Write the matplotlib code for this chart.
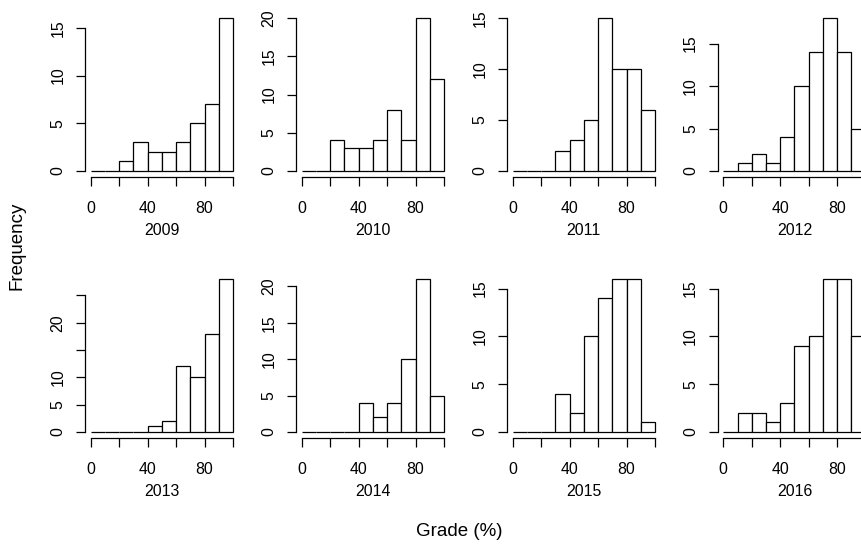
import matplotlib
matplotlib.use("Agg")
import matplotlib.pyplot as plt
from matplotlib import font_manager
import numpy as np

# pick the regular (non-narrow) Liberation Sans file explicitly
_reg = [f for f in font_manager.fontManager.ttflist
        if 'LiberationSans-Regular' in f.fname]
if _reg:
    font_manager.fontManager.addfont(_reg[0].fname)
    FAM = font_manager.FontProperties(fname=_reg[0].fname).get_name()
else:
    FAM = 'DejaVu Sans'
plt.rcParams['font.family'] = [FAM, 'DejaVu Sans']

years = ["2009", "2010", "2011", "2012", "2013", "2014", "2015", "2016"]
bin_edges = [0, 10, 20, 30, 40, 50, 60, 70, 80, 90, 100]
counts_2009 = [0, 0, 1, 3, 2, 2, 3, 5, 7, 16]
counts_2010 = [0, 0, 4, 3, 3, 4, 8, 4, 20, 12]
counts_2011 = [0, 0, 0, 2, 3, 5, 15, 10, 10, 6]
counts_2012 = [0, 1, 2, 1, 4, 10, 14, 18, 14, 5]
counts_2013 = [0, 0, 0, 0, 1, 2, 12, 10, 18, 28]
counts_2014 = [0, 0, 0, 0, 4, 2, 4, 10, 21, 5]
counts_2015 = [0, 0, 0, 4, 2, 10, 14, 16, 16, 1]
counts_2016 = [0, 2, 2, 1, 3, 9, 10, 16, 16, 10]
all_counts = [counts_2009, counts_2010, counts_2011, counts_2012,
              counts_2013, counts_2014, counts_2015, counts_2016]
x_ticks = [0, 20, 40, 60, 80, 100]
x_ticklabels = ["0", "", "40", "", "80", ""]

W, H = 861, 545
fig = plt.figure(figsize=(W / 100, H / 100), dpi=100)

lefts = [85, 296, 507, 717.6]
tops = [12.1, 273.0]
pw, ph = 153.7, 165.0
FS = 11.4

for i, (yr, cnt) in enumerate(zip(years, all_counts)):
    r, c = divmod(i, 4)
    ax = fig.add_axes([lefts[c] / W, 1 - (tops[r] + ph) / H, pw / W, ph / H])
    edges = np.array(bin_edges, dtype=float)
    ax.bar(edges[:-1], cnt, width=np.diff(edges), align='edge',
           facecolor='white', edgecolor='black', linewidth=0.9)
    mx = max(cnt)
    ax.set_xlim(-4, 104)
    ax.set_ylim(-0.04 * mx, 1.04 * mx)
    yt = list(range(0, mx + 1, 5))
    ax.set_xticks(x_ticks)
    ax.set_xticklabels(x_ticklabels)
    ax.set_yticks(yt)
    ylabels = [str(v) for v in yt]
    if mx >= 25:
        ylabels = [s if v in (0, 5, 10, 20) else "" for v, s in zip(yt, ylabels)]
    ax.set_yticklabels(ylabels)
    for side in ('top', 'right'):
        ax.spines[side].set_visible(False)
    ax.spines['bottom'].set_bounds(0, 100)
    ax.spines['left'].set_bounds(0, yt[-1])
    for side in ('bottom', 'left'):
        ax.spines[side].set_linewidth(0.9)
    ax.tick_params(axis='both', direction='out', length=6.5, width=0.9,
                   labelsize=FS, color='black')
    ax.tick_params(axis='x', pad=11.0)
    ax.tick_params(axis='y', pad=7.5, labelrotation=90)
    for lab in ax.get_yticklabels():
        lab.set_va('center')
    ax.annotate(yr, xy=(0.5, 0), xycoords='axes fraction',
                xytext=(0, -53), textcoords='offset pixels',
                ha='center', va='center', fontsize=FS)

fig.text(17.5 / W, 1 - 246 / H, "Frequency", rotation=90, ha='center',
         va='center', fontsize=13.5)
fig.text(459 / W, 1 - 531 / H, "Grade (%)", ha='center', va='center',
         fontsize=13.5)

fig.savefig("out.png", dpi=100)
